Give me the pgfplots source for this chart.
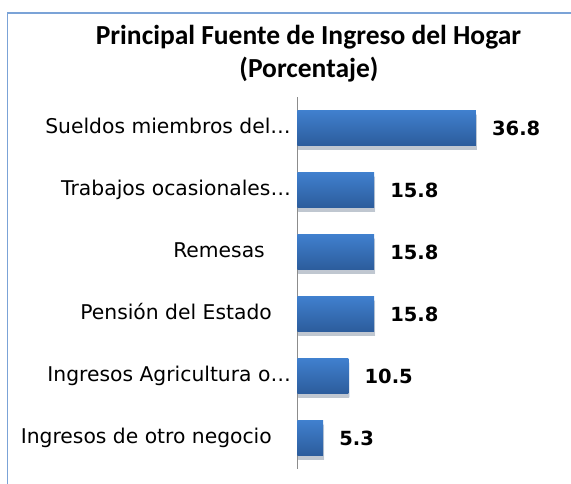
\documentclass[border=0pt]{standalone}
\usepackage{pgfplots}
\pgfplotsset{compat=1.18}
\usepackage{fontspec}
\setmainfont{DejaVu Sans}
\newfontfamily\titlefont{Carlito}
\usetikzlibrary{shadows}

\definecolor{bartop}{HTML}{4080CE}
\definecolor{barbot}{HTML}{2C5C9C}
\definecolor{framec}{HTML}{7BA3D7}
\definecolor{axisc}{HTML}{8C8C8C}

\pgfplotsset{
  barstyle/.style={xbar, bar shift=0pt, draw=none,
    top color=bartop, bottom color=barbot,
    drop shadow={shadow xshift=1pt, shadow yshift=-4pt, opacity=0.15, fill=black}},
}

\begin{document}
\begin{tikzpicture}
\useasboundingbox (0pt,0pt) rectangle (571pt,483pt);
% chart frame, only top and left edges visible
\draw[framec, line width=1.5pt] (7.5pt,-20pt) -- (7.5pt,470pt) -- (600pt,470pt);
% title
\node[font=\titlefont\bfseries\fontsize{27.5}{34}\selectfont, anchor=base]
  at (308.5pt,438.5pt) {Principal Fuente de Ingreso del Hogar};
\node[font=\titlefont\bfseries\fontsize{27.5}{34}\selectfont, anchor=base]
  at (309pt,405pt) {(Porcentaje)};
\begin{axis}[
  at={(297.5pt,14pt)}, anchor=south west,
  scale only axis,
  width=194pt, height=372pt,
  xmin=0, xmax=40,
  ymin=-0.5, ymax=5.5,
  y dir=reverse,
  hide x axis,
  axis y line*=left,
  axis line style={axisc, line width=1.5pt},
  ytick={0,1,2,3,4,5},
  yticklabels={
    {Sueldos miembros del\ldots},
    {Trabajos ocasionales\ldots},
    {Remesas\hspace*{26pt}},
    {Pensión del Estado\hspace*{19pt}},
    {Ingresos Agricultura o\ldots},
    {Ingresos de otro negocio\hspace*{19pt}}},
  major tick length=0pt,
  yticklabel style={font=\fontsize{20.3}{24}\selectfont, anchor=base east,
    inner sep=0pt, xshift=-6.5pt, yshift=-5.8pt},
  bar width=35pt,
  point meta=x,
  nodes near coords,
  nodes near coords style={font=\bfseries\fontsize{19.5}{23}\selectfont,
    anchor=west, inner sep=0pt, xshift=16pt,
    /pgf/number format/.cd, fixed, precision=1, fixed zerofill,
    assume math mode=true},
  clip=false,
]
\addplot[barstyle] coordinates {(36.8,0)};
\addplot[barstyle] coordinates {(15.8,1)};
\addplot[barstyle] coordinates {(15.8,2)};
\addplot[barstyle] coordinates {(15.8,3)};
\addplot[barstyle] coordinates {(10.5,4)};
\addplot[barstyle] coordinates {(5.3,5)};
\end{axis}
\end{tikzpicture}
\end{document}
